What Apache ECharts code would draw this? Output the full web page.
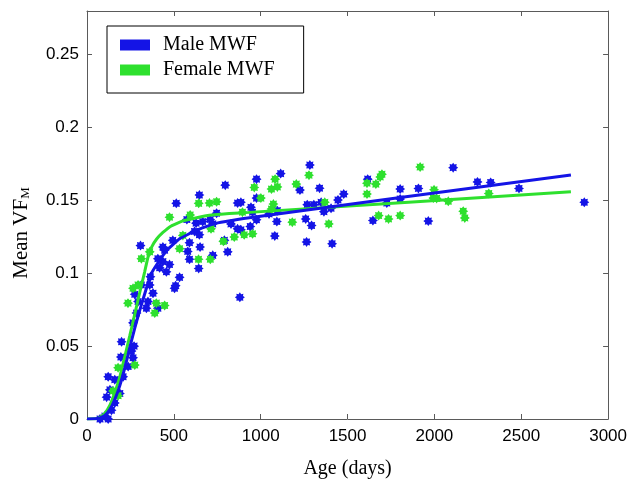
<!DOCTYPE html>
<html>
<head>
<meta charset="utf-8">
<script src="https://cdn.jsdelivr.net/npm/echarts@6/dist/echarts.min.js"></script>
<style>
html,body{margin:0;padding:0;background:#fff;}
#chart{width:630px;height:484px;}
</style>
</head>
<body>
<div id="chart"></div>
<script>
// ---- Data ----
const seriesNames = ['Male MWF', 'Female MWF'];

const maleAges = [75,103,122,141,160,113,132,189,122,160,208,237,195,265,256,271,199,265,285,342,294,351,408,275,504,313,361,380,510,365,533,457,418,475,437,408,643,590,724,580,810,447,437,308,651,590,494,791,647,619,867,724,829,628,575,666,709,746,514,867,647,796,880,1283,1115,976,1226,1339,1478,976,886,1445,1348,1268,1306,944,1096,1405,1364,953,1048,976,1093,1259,1293,940,886,1081,1264,1411,2108,1616,1803,1908,1803,1726,1646,1965,2248,2324,2487,2863];
const maleVF = [0.000,0.002,0.000,0.006,0.011,0.015,0.020,0.0175,0.029,0.027,0.029,0.036,0.0425,0.042,0.0466,0.050,0.053,0.066,0.0727,0.076,0.0806,0.0806,0.076,0.0856,0.0897,0.092,0.092,0.0863,0.0915,0.0976,0.0972,0.101,0.1038,0.106,0.108,0.110,0.1033,0.1096,0.1123,0.115,0.1147,0.1158,0.118,0.119,0.118,0.121,0.1226,0.1226,0.1264,0.1287,0.1305,0.1339,0.1339,0.1344,0.1369,0.1355,0.1369,0.1412,0.148,0.1482,0.1537,0.1605,0.0835,0.1743,0.1684,0.1646,0.1571,0.1584,0.1544,0.1516,0.1487,0.1503,0.1487,0.1471,0.1471,0.1453,0.143,0.1446,0.1423,0.1419,0.1407,0.1367,0.1355,0.1373,0.1328,0.1321,0.1298,0.1256,0.1215,0.1203,0.1725,0.1646,0.1578,0.1582,0.151,0.1482,0.1362,0.1358,0.1627,0.1623,0.1582,0.1487];

const femaleAges = [150,179,179,275,236,399,447,390,294,265,313,361,533,642,710,785,848,552,714,475,594,643,705,746,895,1278,1083,963,1062,1096,1205,1001,1073,1062,905,953,1182,1392,1369,1918,1698,1688,1612,1663,1612,1998,1994,2013,2080,1679,1736,1803,2166,2175,2313];
const femaleVF = [0.0193,0.016,0.0352,0.037,0.0795,0.0795,0.0779,0.0727,0.092,0.0897,0.110,0.1147,0.1169,0.1096,0.1096,0.1219,0.1249,0.126,0.1305,0.1385,0.140,0.148,0.1482,0.1491,0.1419,0.1673,0.1646,0.1589,0.1578,0.1593,0.1612,0.1516,0.1475,0.1441,0.1264,0.1271,0.1351,0.1339,0.1487,0.1729,0.168,0.1661,0.1618,0.1612,0.1544,0.1573,0.1516,0.1514,0.1494,0.1396,0.1373,0.1396,0.1426,0.138,0.1548];

const maleFitAges = [0,46,75,103,132,160,189,218,246,275,304,342,371,399,457,533,628,743,924,2786];
const maleFitVF = [0,0.0001,0.0008,0.0025,0.0066,0.0134,0.0229,0.0352,0.0488,0.0624,0.0747,0.0897,0.0999,0.1055,0.1155,0.1237,0.1294,0.1344,0.138,0.1675];

const femaleFitAges = [0,46,75,103,132,160,189,218,246,275,304,332,351,372,401,437,485,552,686,819,934,2786];
const femaleFitVF = [0,0.0001,0.0012,0.004,0.0095,0.018,0.029,0.043,0.057,0.072,0.087,0.101,0.111,0.118,0.1235,0.128,0.1325,0.136,0.1395,0.141,0.1418,0.1559];

const xTickStep = 500, xMax = 3000;
const yTickStep = 0.05, yMax = 0.28;

// ---- Styling ----
const BLUE = '#1414e6';
const GREEN = '#2ee02e';
const AXIS = '#5a5a5a';
const SANS = 'Liberation Sans, Arial, sans-serif';
const SERIF = 'Liberation Serif, Times New Roman, serif';

function starPath(n, ro, ri) {
  let d = '';
  for (let i = 0; i < 2 * n; i++) {
    const r = i % 2 === 0 ? ro : ri;
    const a = Math.PI * i / n - Math.PI / 2;
    d += (i === 0 ? 'M' : 'L') + (r * Math.cos(a)).toFixed(2) + ' ' + (r * Math.sin(a)).toFixed(2);
  }
  return 'path://' + d + 'Z';
}
const STAR = starPath(8, 10, 6.8);

function zip(a, b) { return a.map((v, i) => [v, b[i]]); }

const chart = echarts.init(document.getElementById('chart'), null, {renderer: 'canvas'});

const commonX = {
  type: 'value', min: 0, max: xMax, interval: xTickStep,
  axisLine: {show: true, onZero: false, lineStyle: {color: AXIS, width: 1}},
  axisTick: {show: true, inside: true, length: 5, lineStyle: {color: AXIS}},
  splitLine: {show: false}
};
const commonY = {
  type: 'value', min: 0, max: yMax, interval: yTickStep,
  axisLine: {show: true, onZero: false, lineStyle: {color: AXIS, width: 1}},
  axisTick: {show: true, inside: true, length: 5, lineStyle: {color: AXIS}},
  splitLine: {show: false}
};

function isTick(v, step) {
  const k = Math.round(v / step);
  return Math.abs(k * step - v) < 1e-9;
}

const option = {
  animation: false,
  backgroundColor: '#fff',
  grid: {left: 87, top: 11, width: 523, height: 410.7, containLabel: false},
  legend: {
    data: seriesNames,
    orient: 'vertical',
    left: 107, top: 26,
    icon: 'rect',
    itemWidth: 30, itemHeight: 11,
    itemGap: 5,
    padding: [9, 29, 13, 13],
    borderColor: '#000', borderWidth: 1,
    backgroundColor: '#fff',
    textStyle: {fontFamily: SERIF, fontSize: 20, color: '#000', lineHeight: 20, padding: [0, 0, 0, 8]}
  },
  xAxis: [
    Object.assign({}, commonX, {
      position: 'bottom',
      name: 'Age (days)', nameLocation: 'middle', nameGap: 40,
      nameTextStyle: {fontFamily: SERIF, fontSize: 20, color: '#000'},
      axisLabel: {fontFamily: SANS, fontSize: 17, color: '#000', margin: 9,
        formatter: function (v) { return isTick(v, xTickStep) ? String(v) : ''; }}
    }),
    Object.assign({}, commonX, {position: 'top', axisLabel: {show: false}})
  ],
  yAxis: [
    Object.assign({}, commonY, {
      position: 'left',
      name: '{a|Mean VF}{s|M}', nameLocation: 'middle', nameGap: 55, nameRotate: 90,
      nameTextStyle: {
        padding: [0, 36, 0, 0],
        rich: {
          a: {fontFamily: SERIF, fontSize: 21, color: '#000'},
          s: {fontFamily: SERIF, fontSize: 13, color: '#000', verticalAlign: 'bottom', padding: [8, 0, 0, 0]}
        }
      },
      axisLabel: {
        fontFamily: SANS, fontSize: 17, color: '#000', margin: 8,
        formatter: function (v) { return isTick(v, yTickStep) ? String(+v.toFixed(2)) : ''; }
      }
    }),
    Object.assign({}, commonY, {position: 'right', axisLabel: {show: false}})
  ],
  series: [
    {
      name: seriesNames[0], type: 'scatter', data: zip(maleAges, maleVF),
      symbol: STAR, symbolSize: 10, itemStyle: {color: BLUE, opacity: 1}, z: 2
    },
    {
      name: seriesNames[1], type: 'scatter', data: zip(femaleAges, femaleVF),
      symbol: STAR, symbolSize: 10, itemStyle: {color: GREEN, opacity: 1}, z: 2
    },
    {
      name: seriesNames[1], type: 'line', data: zip(femaleFitAges, femaleFitVF),
      showSymbol: false, symbol: 'none', smooth: 0.1,
      lineStyle: {color: GREEN, width: 3}, itemStyle: {color: GREEN}, z: 3
    },
    {
      name: seriesNames[0], type: 'line', data: zip(maleFitAges, maleFitVF),
      showSymbol: false, symbol: 'none', smooth: 0.1,
      lineStyle: {color: BLUE, width: 3}, itemStyle: {color: BLUE}, z: 4
    }
  ]
};
chart.setOption(option);
</script>
</body>
</html>
